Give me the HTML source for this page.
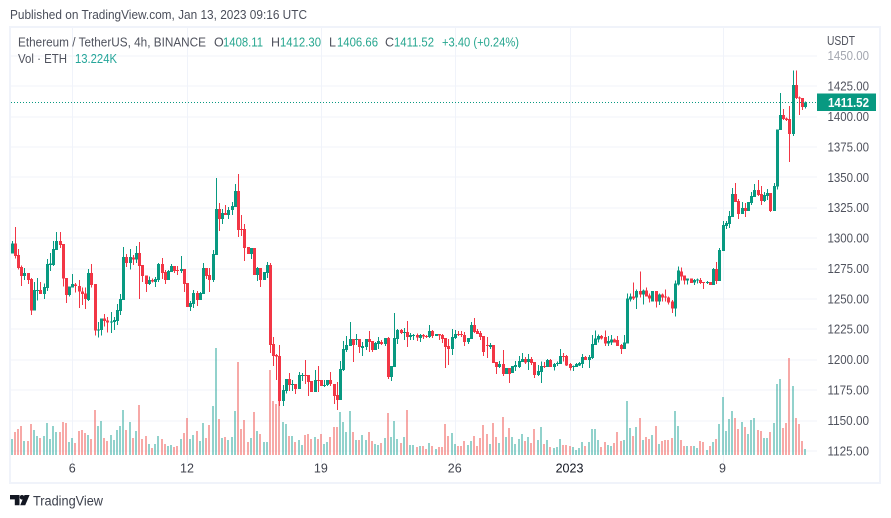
<!DOCTYPE html>
<html>
<head>
<meta charset="utf-8">
<title>ETHUSDT 4h chart</title>
<style>
html,body{margin:0;padding:0;background:#fff;width:891px;height:518px;overflow:hidden}
svg{display:block}
text{font-family:"Liberation Sans",sans-serif}
</style>
</head>
<body>
<svg id="chart" width="891" height="518" viewBox="0 0 891 518" xmlns="http://www.w3.org/2000/svg">
  <text x="10" y="19" font-size="12.5" fill="#4a4e5a" textLength="297" lengthAdjust="spacingAndGlyphs">Published on TradingView.com, Jan 13, 2023 09:16 UTC</text>
  <rect x="10" y="27" width="870" height="456" fill="#fff" stroke="#f0f3fa" stroke-width="2"/>
  <defs><clipPath id="plot-clip"><rect x="11" y="28" width="806" height="436"/></clipPath></defs>
  <g id="grid"></g>
  <g id="volumes" clip-path="url(#plot-clip)"></g>
  <g id="candles" clip-path="url(#plot-clip)"></g>
  <line id="last-line" x1="11" x2="817" stroke="#089981" stroke-width="1" stroke-dasharray="1 2"/>
  <g id="price-axis"></g>
  <g id="time-axis"></g>
  <text x="827" y="45" font-size="12.5" fill="#50535e" textLength="28" lengthAdjust="spacingAndGlyphs">USDT</text>
  <rect id="last-box" x="817" width="59" height="17.5" fill="#089981"/>
  <text id="last-text" x="828" font-size="12.5" font-weight="bold" fill="#fff" textLength="41" lengthAdjust="spacingAndGlyphs"></text>

  <g font-size="12.5">
    <text x="18" y="46.5" fill="#50535e" textLength="188" lengthAdjust="spacingAndGlyphs">Ethereum / TetherUS, 4h, BINANCE</text>
    <text x="214" y="46.5" fill="#50535e">O</text>
    <text x="223" y="46.5" fill="#26a68f" textLength="40" lengthAdjust="spacingAndGlyphs">1408.11</text>
    <text x="271" y="46.5" fill="#50535e">H</text>
    <text x="280" y="46.5" fill="#26a68f" textLength="41" lengthAdjust="spacingAndGlyphs">1412.30</text>
    <text x="329" y="46.5" fill="#50535e">L</text>
    <text x="337" y="46.5" fill="#26a68f" textLength="41" lengthAdjust="spacingAndGlyphs">1406.66</text>
    <text x="385" y="46.5" fill="#50535e">C</text>
    <text x="394" y="46.5" fill="#26a68f" textLength="40" lengthAdjust="spacingAndGlyphs">1411.52</text>
    <text x="442" y="46.5" fill="#26a68f" textLength="77" lengthAdjust="spacingAndGlyphs">+3.40 (+0.24%)</text>
    <text x="18" y="63" fill="#50535e" textLength="49" lengthAdjust="spacingAndGlyphs">Vol · ETH</text>
    <text x="75" y="63" fill="#26a69a" textLength="42" lengthAdjust="spacingAndGlyphs">13.224K</text>
  </g>

  <g>
    <path d="M10 495H19.5V505.3H14.8V499.4H10Z" fill="#131722"/>
    <circle cx="22" cy="497.3" r="2.3" fill="#131722"/>
    <path d="M24.5 495H29.6L25.2 505.3H20.2Z" fill="#131722"/>
    <text x="33" y="505.3" font-size="13.5" fill="#3c404c" textLength="70" lengthAdjust="spacingAndGlyphs">TradingView</text>
  </g>
</svg>
<script>
const opens = [
1287.5,1295.7,1286.1,1276.5,1268.9,1271.3,1266.4,1240.4,1256.8,1257.4,
1254.1,1259,1277.9,1277.9,1290.2,1297.6,1295.2,1267.2,1253.5,1259.6,
1262,1260.6,1256.3,1254.6,1249.1,1271.3,1262.3,1223.9,1224.5,1234.1,
1232.4,1230.5,1231.1,1231.9,1240.1,1249.4,1284.5,1279.8,1284.2,1282.6,
1287.8,1277.9,1269.4,1262.3,1265.6,1264,1265.6,1278.7,1272.2,1265.6,
1272.4,1277.1,1273.8,1273,1274.6,1263.1,1243.4,1245.9,1254.9,1249.1,
1254.1,1275.4,1269.7,1265.6,1286.1,1324,1315.7,1320.7,1319,1323.1,
1325.6,1338.7,1307.5,1307.5,1292.7,1287,1291.9,1269.7,1275.4,1265.6,
1271.3,1277.9,1213,1203.9,1203.1,1166.1,1174.3,1184.2,1179.5,1180.1,
1176,1186.9,1187.5,1187.5,1182.5,1173.5,1183.4,1183.4,1178.4,1179.2,
1183.4,1180.1,1171,1166.9,1191.6,1208,1211.3,1217,1216.5,1217,
1209.9,1210.5,1217,1215.4,1208,1213,1214.6,1213,1217.9,1185.8,
1194.1,1217,1224.5,1222.3,1222.8,1218.7,1220.1,1220.4,1217.9,1220.4,
1219.5,1218.7,1223.6,1219.5,1221.2,1220.4,1217.9,1211.3,1208.8,1217.9,
1221.2,1221.2,1220.4,1214.6,1217,1228.6,1223.6,1222,1219.5,1212.1,
1210.5,1212.1,1198.2,1194.1,1196.5,1188.3,1193.2,1189.1,1194.1,1194.1,
1198.2,1200.6,1198.2,1200.6,1198.2,1187.5,1189.8,1194.7,1193.9,1199.7,
1193.9,1196.4,1196.4,1203,1203,1196.4,1193.9,1193.9,1195.5,1196.4,
1202.1,1199.7,1201.3,1212,1216.9,1219.4,1218.6,1213.6,1214.4,1216.9,
1216.1,1212,1208.7,1213.6,1249.8,1252.2,1251.4,1256.4,1253.9,1257.2,
1253.1,1248.1,1256.4,1248.1,1253.9,1252.2,1251.4,1248.1,1242.4,1262.1,
1272.8,1269.5,1265.4,1267,1263.4,1265.3,1265.6,1263.9,1263.4,1263.9,
1261.5,1274.6,1264.8,1289.4,1310,1311.6,1317.4,1336.3,1330.5,1319.8,
1324.8,1322.3,1328.9,1333.8,1339.6,1336.3,1330.5,1334.6,1337.1,1322.3,
1342.4,1388.9,1401.3,1398.5,1398,1385.7,1425.9,1416,1415.2,1408.11];
const highs = [
1297.6,1309.4,1291.1,1277.4,1275.7,1271.3,1267.5,1263.9,1267.2,1263.9,
1262.8,1282.8,1287.8,1297.6,1305,1305,1295.2,1267.2,1260.1,1270.5,
1263.1,1265.6,1259.6,1259.6,1274.6,1278.7,1262.3,1231.3,1234.1,1237.6,
1235.2,1239.3,1235.2,1245.9,1254.1,1292.7,1287,1291.1,1286.1,1293.5,
1296.8,1277.9,1269.4,1268.6,1267,1268,1279.6,1283.7,1273.8,1273.8,
1278.7,1277.1,1277.1,1285.3,1274.6,1263.1,1248.3,1257.4,1256.5,1255.7,
1279.6,1275.4,1275.4,1290.2,1349.4,1328.9,1324,1327.2,1325.6,1329.7,
1344.5,1352.7,1319,1311.6,1292.7,1291.9,1291.9,1276.3,1275.4,1272.2,
1280.4,1279.6,1218.7,1204.8,1212.1,1179.3,1184.2,1189.1,1183.4,1180.1,
1189.9,1189.1,1199.8,1187.5,1182.5,1191.6,1194.9,1183.4,1183.4,1183.4,
1189.9,1180.1,1181.7,1199,1215.4,1219.5,1231,1217,1221.2,1217,
1214.6,1217,1223.6,1215.4,1214.6,1218.7,1216.2,1217.9,1218.7,1194.9,
1238.4,1225.3,1225.3,1226.1,1231.9,1222,1221.2,1221.7,1221.2,1221.2,
1220.4,1228.6,1224.5,1221.2,1221.2,1221.2,1217.9,1217,1225.3,1224.5,
1223.6,1223.6,1222.8,1217.9,1231,1234.3,1225.3,1223.6,1219.5,1218.7,
1213.8,1212.1,1198.2,1199,1208,1193.2,1193.2,1194.9,1199,1203.1,
1205.6,1202.3,1204.7,1202.3,1198.2,1195.7,1198.8,1198,1200.5,1200.5,
1197.2,1198.8,1208.7,1205.4,1203.8,1197.2,1195.5,1197.2,1198,1204.6,
1203,1203.8,1220.2,1224.3,1221,1220.2,1224.3,1219.4,1220.2,1217.7,
1219.4,1212.8,1220.2,1254.7,1254.7,1263.8,1258,1272.8,1258,1259.6,
1254.7,1256.4,1256.4,1254.7,1254.7,1258,1252.2,1249,1265.4,1276.9,
1276.1,1269.5,1267,1267,1266.4,1266.7,1267.2,1263.9,1264.8,1263.9,
1275.4,1280.4,1291.9,1314.1,1314.1,1322.3,1341.2,1345.3,1332.2,1329.7,
1328.9,1329.7,1337.9,1344.5,1347.8,1342.8,1337.9,1340.4,1337.1,1345.3,
1389.5,1419.3,1406.2,1399.3,1408.6,1438.2,1438.2,1416.8,1415.2,1412.3];
const lows = [
1287.5,1283.4,1274.3,1260.9,1265.6,1262.3,1236.8,1240.4,1248.6,1254.1,
1250.2,1256.8,1273,1277.1,1290.2,1291.9,1260.1,1246.7,1251.9,1259.6,
1255.4,1242.6,1245,1241.7,1248.3,1259.6,1219.8,1218.2,1219.8,1227.2,
1222.3,1222,1224.5,1228.6,1236.8,1249.4,1276.5,1274.3,1277.9,1279.8,
1250,1263.9,1255.7,1261.5,1263.4,1259.8,1264,1266.4,1262.3,1265.6,
1272.2,1271.3,1269.7,1271.3,1255.7,1243.4,1240.1,1242.6,1244.2,1249.1,
1254.1,1266.4,1255.7,1264,1286.1,1305.9,1311.6,1319,1315.7,1319,
1325.6,1300.9,1301.7,1281.2,1287,1282.8,1269.7,1264.8,1259.8,1265.6,
1267.2,1205.6,1194.9,1183.4,1162,1162,1172.4,1174.3,1174.3,1171.9,
1176,1182.5,1180.1,1170.2,1173.5,1173.5,1173.5,1178.4,1177.6,1178.4,
1178.4,1163.6,1158.7,1166.9,1190.8,1206.4,1211.3,1198.2,1212.1,1205.6,
1203.1,1208,1206.4,1206.4,1208,1208.8,1212.1,1211.3,1184.2,1182.5,
1194.1,1213,1221.2,1216.2,1210.5,1216.2,1216.2,1215.4,1214.6,1217,
1217.9,1217.9,1217.9,1219.5,1216.2,1213.8,1193.2,1195.7,1203.9,1217,
1219.5,1218.7,1211.3,1213,1217,1222,1221.2,1216.2,1203.1,1201.4,
1208.8,1197.3,1188.3,1193.2,1186.6,1188.3,1180.9,1189.1,1190.8,1193.2,
1198.2,1196.5,1191.6,1195.7,1185,1186.6,1180.8,1193.1,1193.9,1193.9,
1191.4,1194.7,1196.4,1198.8,1194.7,1191.4,1190.6,1193.9,1194.7,1193.1,
1199.7,1193.1,1200.5,1212,1214.4,1216.9,1211.2,1211.2,1212,1214.4,
1211.2,1204.6,1208.7,1213.6,1248.1,1249,1241.6,1251.4,1245.7,1252.2,
1247.3,1248.1,1243.2,1244.9,1248.1,1248.1,1245.7,1238.3,1235.8,1261.3,
1265.4,1262.1,1262.1,1263,1261.5,1262.8,1262.3,1258.2,1262.3,1261.5,
1261.5,1262.3,1264.8,1289.4,1307.5,1308.3,1317.4,1329.7,1315.7,1319.8,
1317.4,1322.3,1327.2,1333.8,1334.6,1327.2,1329.7,1331.3,1321.5,1322.3,
1340.3,1388.9,1397.2,1396.3,1362.7,1384,1414.4,1401.2,1405.4,1406.66];
const closes = [
1295.7,1285.3,1275.7,1268.9,1271.3,1265.6,1240.4,1257.4,1257.4,1254.1,
1259.8,1278.7,1279.3,1291.1,1297.6,1294.6,1266.7,1253.5,1260.1,1262.3,
1260.6,1256.3,1254.1,1250,1271.3,1261.5,1223.9,1225,1234.1,1231.9,
1230.5,1231.6,1232.7,1241,1250,1284.5,1279.8,1284.5,1282.6,1287.8,
1277.1,1269.1,1262.3,1265.6,1264.5,1266.4,1278.7,1271.3,1265.6,1273,
1277.1,1273,1273.3,1274.6,1262.3,1243.4,1246.7,1254.9,1249.1,1254.9,
1275.4,1268.9,1265.6,1287,1324,1315.7,1320.7,1319,1323.1,1326.4,
1338.7,1306.7,1306.7,1291.9,1287,1291.9,1269.7,1275.4,1265.6,1272.2,
1277.9,1212.2,1203.1,1202.6,1166.1,1175.1,1184.2,1179.3,1180.1,1176,
1187.5,1187.5,1186.9,1181.7,1173.5,1183.4,1182.5,1178.4,1179.2,1183.4,
1180.1,1170.2,1166.9,1192.4,1208.8,1212.1,1217,1212.1,1217,1210.5,
1211.3,1217,1214.6,1208,1213.8,1215.4,1213,1217.9,1185.8,1194.9,
1217.9,1224.5,1222,1222.8,1218.7,1220.4,1220.6,1218.4,1220.4,1219,
1219,1223.6,1219.5,1221.2,1219.8,1217,1210.5,1208.8,1218.7,1221.2,
1220.6,1220.4,1214.6,1217.9,1228.6,1222.8,1221.2,1218.7,1206.4,1211.3,
1212.1,1197.3,1194.1,1196.5,1188.3,1193.2,1188.3,1194.9,1195.7,1199,
1200.6,1197.9,1200.6,1197.3,1187.5,1190.8,1194.7,1193.9,1199.7,1193.9,
1196.4,1197.2,1203,1202.4,1195.5,1193.1,1194.7,1196.4,1197.2,1202.1,
1199.7,1202.1,1212.8,1217.7,1219.4,1217.7,1213.6,1215.3,1216.9,1214.4,
1211.2,1208.7,1214.4,1250.6,1252.2,1250.6,1256.4,1253.9,1257.2,1252.2,
1250.6,1256.4,1248.1,1253.9,1251.4,1251.7,1247.3,1242.4,1262.9,1273.6,
1268.7,1265.4,1267,1263,1265.6,1265.9,1263.1,1263.1,1263.9,1261.5,
1274.6,1264.8,1290.2,1310.8,1312.4,1318.2,1336.3,1329.7,1319.8,1324.8,
1322.3,1329.7,1334.6,1339.6,1335.5,1330.5,1335.5,1337.1,1322.3,1342.8,
1389.5,1401.3,1398,1397.4,1385.7,1425.9,1415.2,1415.2,1407.8,1411.52];
const volumesK = [
35.2,50.6,57.2,63.8,30.8,30.8,68.2,55,41.8,37.4,
41.8,70.4,35.2,63.8,50.6,50.6,72.6,70.4,28.6,37.4,
26.4,52.8,55,48.4,44,35.2,99,63.8,74.8,37.4,
30.8,44,33,55,63.8,99,55,72.6,37.4,52.8,
110,35.2,41.8,24.2,15.4,24.2,41.8,35.2,24.2,19.8,
22,17.6,19.8,35.2,48.4,81.4,35.2,44,52.8,30.8,
70.4,37.4,66,107.8,235.4,79.2,37.4,39.6,33,39.6,
96.8,204.6,57.2,77,28.6,37.4,94.6,52.8,46.2,28.6,
28.6,187,118.8,112.2,121,72.6,68.2,41.8,41.8,28.6,
33,22,44,46.2,35.2,39.6,35.2,46.2,24.2,28.6,
39.6,61.6,61.6,94.6,72.6,50.6,96.8,50.6,33,33,
44,33,50.6,30.8,24.2,22,26.4,37.4,92.4,39.6,
74.8,35.2,26.4,39.6,99,22,22,17.6,19.8,19.8,
13.2,26.4,19.8,13.2,17.6,17.6,68.2,41.8,48.4,24.2,
19.8,19.8,30.8,22,30.8,41.8,19.8,37.4,66,46.2,
24.2,70.4,39.6,26.4,83.6,39.6,59.4,39.6,24.2,35.2,
46.2,30.8,39.6,26.4,57.2,33,61.6,24.2,33,17.6,
15.4,17.6,35.2,22,22,19.8,17.6,11,15.4,28.6,
19.8,28.6,57.2,57.2,33,17.6,28.6,22,19.8,26.4,
50.6,30.8,33,118.8,59.4,41.8,61.6,81.4,33,39.6,
35.2,44,63.8,24.2,30.8,33,33,37.4,96.8,63.8,
33,19.8,19.8,19.8,19.8,15.4,30.8,28.6,11,19.8,
28.6,35.2,68.2,127.6,52.8,79.2,96.8,81.4,57.2,72.6,
61.6,46.2,77,81.4,55,52.8,37.4,37.4,50.6,70.4,
156.2,167.2,59.4,70.4,213.4,151.8,81.4,68.2,30.8,13.224];
const priceTicks = [1450,1425,1400,1375,1350,1325,1300,1275,1250,1225,1200,1175,1150,1125];
const timeLabels = ['6','12','19','26','2023','9'];
const timeLabelBars = [19,55,97,139,175,223];
const lastPrice = 1411.52;

const SVG_NS = 'http://www.w3.org/2000/svg';
const upColor = '#089981';
const downColor = '#f23645';
const upVolColor = '#26a69a';
const downVolColor = '#ef5350';

function xScale(i) { return 11.7 + 3.1875 * i; }
function yScale(p) { return 116.7 + (1400 - p) * 1.2155; }
function volHeight(v) { return v / 2.2; }
const volBase = 455;

function mk(tag, attrs) {
  const e = document.createElementNS(SVG_NS, tag);
  for (const k in attrs) e.setAttribute(k, attrs[k]);
  return e;
}

const gridG = document.getElementById('grid');
const priceG = document.getElementById('price-axis');
priceTicks.forEach(function (p) {
  const y = Math.round(yScale(p)) + 0.5;
  const ln = mk('line', {x1: 11, x2: 817, y1: y - 0.5, y2: y - 0.5, stroke: '#f0f3fa', 'stroke-width': 1});
  
  
  gridG.appendChild(ln);
  const t = mk('text', {x: 827.5, y: yScale(p) + 4.3, 'font-size': 12.5, fill: p === 1450 ? '#a3a6af' : '#50535e', textLength: 41.5, lengthAdjust: 'spacingAndGlyphs'});
  
  
  t.textContent = p.toFixed(2);
  priceG.appendChild(t);
});

const timeG = document.getElementById('time-axis');
timeLabels.forEach(function (lab, k) {
  const x = xScale(timeLabelBars[k]);
  const ln = mk('line', {x1: Math.round(x) + 0.5, x2: Math.round(x) + 0.5, y1: 28, y2: 463, stroke: '#f0f3fa', 'stroke-width': 1});
  
  
  gridG.appendChild(ln);
  const t = mk('text', {x: x, y: 472.5, 'font-size': 12.5, 'text-anchor': 'middle', fill: lab === '2023' ? '#131722' : '#40434e'});
  
  
  t.textContent = lab;
  timeG.appendChild(t);
});

const volG = document.getElementById('volumes');
const candleG = document.getElementById('candles');
opens.forEach(function (o, i) {
  const c = closes[i];
  const up = c >= o;
  const cx = Math.round(xScale(i));
  const h = Math.max(1, volHeight(volumesK[i]));
  const vb = mk('rect', {x: cx - 1, y: volBase - h, width: 2, height: h, fill: up ? upVolColor : downVolColor, 'fill-opacity': 0.5, 'shape-rendering': 'crispEdges'});
  
  
  volG.appendChild(vb);
  const col = up ? upColor : downColor;
  const wt = yScale(highs[i]);
  const wb = yScale(lows[i]);
  const wick = mk('rect', {x: cx, y: wt, width: 1, height: Math.max(1, wb - wt), fill: col, 'shape-rendering': 'crispEdges'});
  
  
  candleG.appendChild(wick);
  const bt = yScale(Math.max(o, c));
  const bb = yScale(Math.min(o, c));
  const body = mk('rect', {x: cx - 1, y: bt, width: 3, height: Math.max(1, bb - bt), fill: col, 'shape-rendering': 'crispEdges'});
  
  
  candleG.appendChild(body);
});

const lastY = yScale(lastPrice);
const lastLine = document.getElementById('last-line');
lastLine.setAttribute('y1', Math.floor(lastY) + 0.5);
lastLine.setAttribute('y2', Math.floor(lastY) + 0.5);
document.getElementById('last-box').setAttribute('y', lastY - 9.2);
const lastText = document.getElementById('last-text');
lastText.setAttribute('y', lastY + 4.5);
lastText.textContent = lastPrice.toFixed(2);
</script>
</body>
</html>
